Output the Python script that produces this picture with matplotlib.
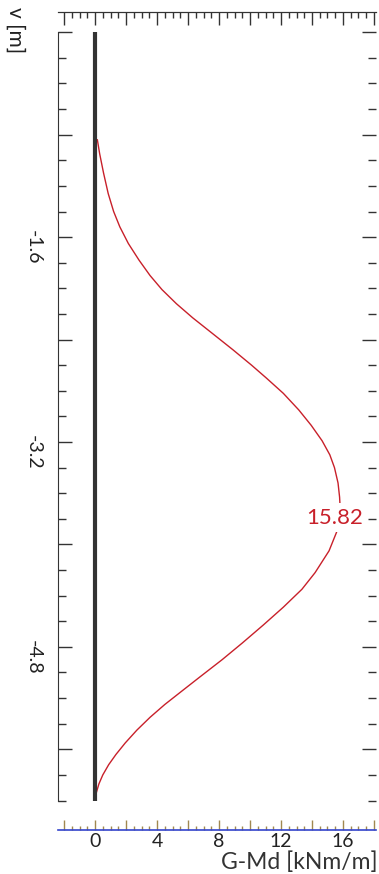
import matplotlib
matplotlib.use("Agg")
import matplotlib.pyplot as plt
import numpy as np
from matplotlib.ticker import FixedLocator, FuncFormatter

plt.rcParams['font.family'] = ['Lato', 'DejaVu Sans']

# depth v [m] and moment G-Md [kNm/m]
depth = [-0.84, -0.95, -1.10, -1.26, -1.40, -1.52, -1.65, -1.78, -1.90, -2.01,
         -2.12, -2.23, -2.35, -2.48, -2.60, -2.70, -2.82, -2.95, -3.07, -3.19,
         -3.30, -3.40, -3.52, -3.63, -3.72, -3.80, -3.90, -4.05, -4.22, -4.35,
         -4.49, -4.63, -4.77, -4.90, -5.04, -5.15, -5.25, -5.35, -5.45, -5.55,
         -5.64, -5.72, -5.80, -5.87, -5.94]
moment = [0.15, 0.30, 0.55, 0.85, 1.20, 1.60, 2.15, 2.84, 3.55, 4.32,
          5.25, 6.30, 7.55, 8.90, 10.10, 11.05, 12.15, 13.15, 13.95, 14.65,
          15.15, 15.45, 15.68, 15.78, 15.82, 15.80, 15.60, 15.10, 14.20, 13.35,
          12.15, 10.85, 9.50, 8.20, 6.71, 5.55, 4.50, 3.55, 2.70, 1.95,
          1.35, 0.88, 0.50, 0.25, 0.08]
pile_depth = [0.0, -6.0]
pile_x = [0.0, 0.0]
peak_value = 15.82
peak_depth = -3.79

fig = plt.figure(figsize=(3.79, 8.74), dpi=100)
ax = fig.add_axes([58 / 379, 1 - 830 / 874, 318 / 379, 818 / 874])

ax.plot(pile_x, pile_depth, color='#333333', lw=3.0, solid_capstyle='butt', zorder=3)
ax.plot(moment, depth, color='#c8202a', lw=1.0, zorder=2)
ax.text(15.45, peak_depth, f'{peak_value:.2f}', color='#c8202a', fontsize=16,
        ha='center', va='center', zorder=4,
        bbox=dict(facecolor='white', edgecolor='none', pad=3))

ax.set_xlim(-2.39, 18.13)
ax.set_ylim(-6.23, 0.158)

# spines
ax.spines['right'].set_visible(False)
ax.spines['left'].set_bounds(-6.0, 0.0)
ax.spines['left'].set_color('#333333')
ax.spines['bottom'].set_color('#3344cc')
ax.spines['bottom'].set_linewidth(1.2)
ax.spines['top'].set_color('#333333')

# y ticks: both sides, inward
ymaj = np.arange(0, -6.01, -0.8)
ymin = np.arange(0, -6.01, -0.2)
ax.yaxis.set_major_locator(FixedLocator(ymaj))
ax.yaxis.set_minor_locator(FixedLocator(ymin))
ax.yaxis.set_major_formatter(FuncFormatter(
    lambda v, p: f'{v:.1f}' if abs(v) > 0.01 and abs(round(v / 1.6) - v / 1.6) < 0.01 else ''))
ax.tick_params(axis='y', which='both', direction='in', left=True, right=True,
               color='#333333')
ax.tick_params(axis='y', which='major', length=10, width=1, pad=12,
               labelsize=14, labelrotation=-90, labelcolor='#222222')
ax.tick_params(axis='y', which='minor', length=6, width=1)

# x ticks bottom
ax.xaxis.set_major_locator(FixedLocator(np.arange(-2, 18.5, 2)))
ax.xaxis.set_minor_locator(FixedLocator(np.arange(-2, 18.5, 0.5)))
ax.xaxis.set_major_formatter(FuncFormatter(
    lambda v, p: f'{v:.0f}' if v >= 0 and abs(v % 4) < 0.01 else ''))
ax.tick_params(axis='x', which='both', direction='in', bottom=True, top=False,
               color='#a08850')
ax.tick_params(axis='x', which='major', length=7, width=1, pad=2,
               labelsize=14, labelcolor='#222222')
ax.tick_params(axis='x', which='minor', length=3, width=1)

# top ruler
top = ax.secondary_xaxis('top')
top.xaxis.set_major_locator(FixedLocator(np.arange(-2, 18.5, 2)))
top.xaxis.set_minor_locator(FixedLocator(np.arange(-2, 18.5, 0.5)))
top.tick_params(axis='x', which='both', direction='in', labeltop=False,
                color='#333333')
top.tick_params(axis='x', which='major', length=9, width=1)
top.tick_params(axis='x', which='minor', length=4.5, width=1)
top.spines['top'].set_color('#333333')

fig.text(378 / 379, 1 - 862 / 874, 'G-Md [kNm/m]', ha='right', va='center',
         fontsize=16.5, color='#333333')
fig.text(15 / 379, 1 - 30 / 874, 'v [m]', ha='center', va='center',
         rotation=-90, fontsize=15, color='#222222')

fig.savefig('out.png', dpi=100)
